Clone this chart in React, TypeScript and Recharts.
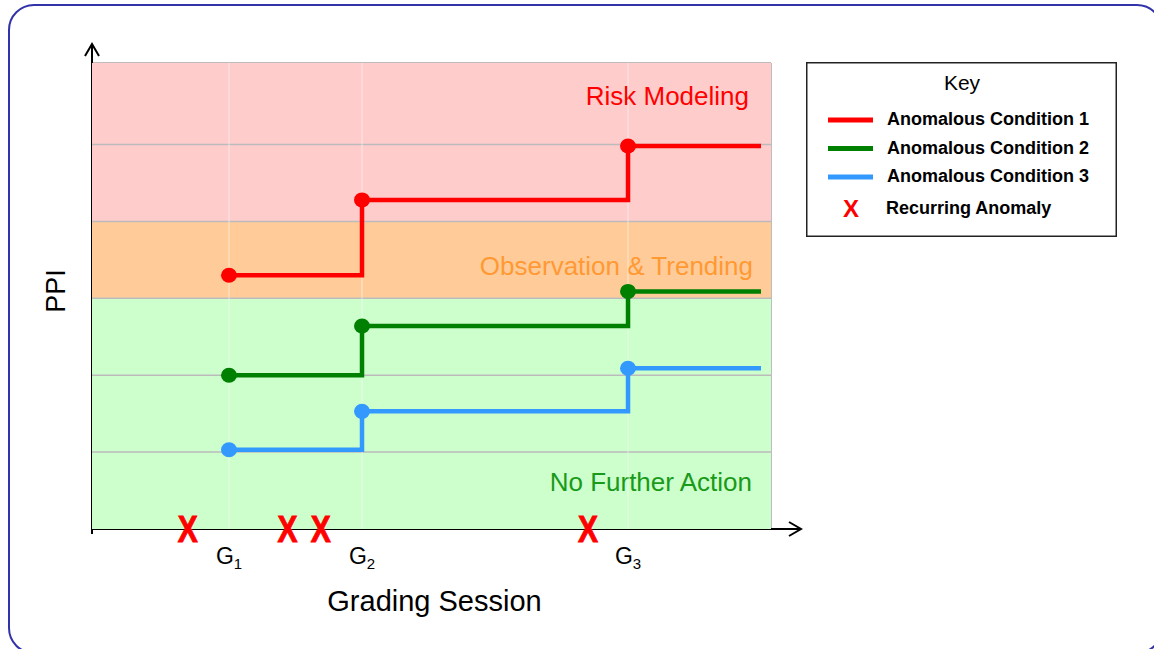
import React from 'react';
import {
  ComposedChart,
  Line,
  Scatter,
  XAxis,
  YAxis,
  ReferenceArea,
  ReferenceLine,
  Legend,
  Customized,
} from 'recharts';

// ---------- data ----------
const sessions = [1, 2, 4, 5];
const sessionTicks = [1, 2, 4];
const sessionSubscripts = ['1', '2', '3'];
const condition1 = [3.3, 4.28, 4.98, 4.98];
const condition2 = [2.0, 2.64, 3.09, 3.09];
const condition3 = [1.03, 1.53, 2.09, 2.09];
const anomalyX = [0.69, 1.44, 1.69, 3.7];
const gridLevels = [1, 2, 3, 4, 5];
const bandNames = ['No Further Action', 'Observation & Trending', 'Risk Modeling'];
const bandFrom = [0, 3, 4];
const bandTo = [3, 4, 6.06];
const seriesNames = ['Anomalous Condition 1', 'Anomalous Condition 2', 'Anomalous Condition 3'];
const anomalyName = 'Recurring Anomaly';
const xDomain = [-0.03, 5.075];
const yDomain = [0, 6.06];

// ---------- styles / layout ----------
const W = 1154;
const H = 649;
const MARGIN = { top: 63, right: 383, bottom: 30, left: 32 };
const Y_AXIS_W = 60;
const X_AXIS_H = 90;
const PLOT = {
  left: MARGIN.left + Y_AXIS_W,
  top: MARGIN.top,
  right: W - MARGIN.right,
  bottom: H - MARGIN.bottom - X_AXIS_H,
};
const FONT = '"Liberation Sans", Arial, Helvetica, sans-serif';
const seriesColors = ['#ff0000', '#008000', '#3399ff'];
const bandFills = ['#ccffcc', '#ffcc99', '#ffcccc'];
const bandTextColors = ['#1a9a1a', '#ff9933', '#ff0000'];
const bandLabelDy = [193, 54, 42];
const bandLabelDx = [19, 18, 22];
const bandFontSize = 26;

const lineData = [condition1, condition2, condition3].map((vals) =>
  sessions.map((x, i) => ({ x, y: vals[i] }))
);
const anomalyData = anomalyX.map((x) => ({ x, y: 0 }));

const makeDot = (color: string) => (props: any) => {
  const { cx, cy, index } = props;
  if (index >= sessionTicks.length || cx == null) return <g key={`d-${index}`} />;
  return <ellipse key={`d-${index}`} cx={cx} cy={cy} rx={8} ry={7.5} fill={color} />;
};

const GTick = (props: any) => {
  const { x, y, payload } = props;
  const i = sessionTicks.indexOf(payload.value);
  return (
    <text x={x} y={y + 27} textAnchor="middle" fontFamily={FONT} fontSize={23} fill="#000">
      <tspan>G</tspan>
      <tspan fontSize={15} dy={5}>{sessionSubscripts[i]}</tspan>
    </text>
  );
};

const XShape = (props: any) => {
  const { cx, cy } = props;
  if (cx == null) return <g />;
  return (
    <text
      transform={`translate(${cx},${cy}) scale(1,1.2)`}
      x={0}
      y={11}
      textAnchor="middle"
      fontFamily={FONT}
      fontWeight="bold"
      fontSize={30}
      fill="#ff0000"
      stroke="#ff0000"
      strokeWidth={0.8}
    >
      X
    </text>
  );
};

const Decor = () => {
  const { left, top, right, bottom } = PLOT;
  return (
    <g>
      <line x1={left} y1={top} x2={right} y2={top} stroke="#bdbdbd" strokeWidth={2} />
      <line x1={right} y1={top} x2={right} y2={bottom} stroke="#bdbdbd" strokeWidth={2} />
      <line x1={left} y1={bottom + 5} x2={left} y2={top - 19} stroke="#000" strokeWidth={2} />
      <polyline
        points={`${left - 7},${top - 7} ${left},${top - 19} ${left + 7},${top - 7}`}
        fill="none"
        stroke="#000"
        strokeWidth={2}
      />
      <line x1={left} y1={bottom} x2={right + 30} y2={bottom} stroke="#000" strokeWidth={2} />
      <polyline
        points={`${right + 18},${bottom - 7} ${right + 30},${bottom} ${right + 18},${bottom + 7}`}
        fill="none"
        stroke="#000"
        strokeWidth={2}
      />
    </g>
  );
};

const LegendBox = () => (
  <svg width={311} height={175} style={{ display: 'block' }}>
    <rect x={0.75} y={0.75} width={309.5} height={173.5} fill="#fff" stroke="#222" strokeWidth={1.5} />
    <text x={156} y={28} textAnchor="middle" fontFamily={FONT} fontSize={21} fill="#000">
      Key
    </text>
    {seriesNames.map((name, i) => (
      <g key={name}>
        <line x1={22} x2={67} y1={58 + i * 28.5} y2={58 + i * 28.5} stroke={seriesColors[i]} strokeWidth={5} />
        <text x={81} y={63 + i * 28.5} fontFamily={FONT} fontWeight="bold" fontSize={18} fill="#000">
          {name}
        </text>
      </g>
    ))}
    <text x={45} y={155} textAnchor="middle" fontFamily={FONT} fontWeight="bold" fontSize={24} fill="#ff0000">
      X
    </text>
    <text x={80} y={152} fontFamily={FONT} fontWeight="bold" fontSize={18} fill="#000">
      {anomalyName}
    </text>
  </svg>
);

export default function App() {
  return (
    <div
      style={{
        position: 'absolute',
        left: 0,
        top: 0,
        width: W,
        height: H,
        overflow: 'hidden',
        background: '#fff',
      }}
    >
      <div
        style={{
          position: 'absolute',
          left: 8,
          top: 4,
          width: 1155,
          height: 650,
          border: '2px solid #3232aa',
          borderRadius: 26,
          boxSizing: 'border-box',
        }}
      />
      <div style={{ position: 'absolute', left: 0, top: 0 }}>
        <ComposedChart width={W} height={H} margin={MARGIN}>
          <XAxis
            type="number"
            dataKey="x"
            domain={xDomain}
            ticks={sessionTicks}
            tick={<GTick />}
            tickLine={false}
            axisLine={false}
            height={X_AXIS_H}
            label={{
              content: (p: any) => {
                const vb = p.viewBox || {};
                return (
                  <text
                    x={vb.x + vb.width / 2 + 3}
                    y={vb.y + 82}
                    textAnchor="middle"
                    fontFamily={FONT}
                    fontSize={29}
                    fill="#000"
                  >
                    Grading Session
                  </text>
                );
              },
            }}
          />
          <YAxis
            type="number"
            dataKey="y"
            domain={yDomain}
            ticks={[]}
            tick={false}
            tickLine={false}
            axisLine={false}
            width={Y_AXIS_W}
            label={{
              content: (p: any) => {
                const vb = p.viewBox || {};
                const cx = vb.x + 33;
                const cy = vb.y + vb.height / 2 - 5;
                return (
                  <text
                    x={cx}
                    y={cy}
                    transform={`rotate(-90 ${cx} ${cy})`}
                    textAnchor="middle"
                    fontFamily={FONT}
                    fontSize={27}
                    fill="#000"
                  >
                    PPI
                  </text>
                );
              },
            }}
          />
          {bandNames.map((name, i) => (
            <ReferenceArea
              key={name}
              y1={bandFrom[i]}
              y2={bandTo[i]}
              fill={bandFills[i]}
              fillOpacity={1}
              stroke="none"
              label={{
                content: (p: any) => {
                  const vb = p.viewBox || {};
                  return (
                    <text
                      x={vb.x + vb.width - bandLabelDx[i]}
                      y={vb.y + bandLabelDy[i]}
                      textAnchor="end"
                      fontFamily={FONT}
                      fontSize={bandFontSize}
                      fill={bandTextColors[i]}
                    >
                      {name}
                    </text>
                  );
                },
              }}
            />
          ))}
          {gridLevels.map((v) => (
            <ReferenceLine key={`h${v}`} y={v} stroke="#bbbbbb" strokeWidth={1.5} />
          ))}
          {sessionTicks.map((v) => (
            <ReferenceLine key={`v${v}`} x={v} stroke="#ffffff" strokeOpacity={0.45} strokeWidth={1.2} />
          ))}
          <Customized component={<Decor />} />
          {lineData.map((d, i) => (
            <Line
              key={seriesNames[i]}
              name={seriesNames[i]}
              data={d}
              dataKey="y"
              type="stepAfter"
              stroke={seriesColors[i]}
              strokeWidth={4.5}
              dot={makeDot(seriesColors[i])}
              activeDot={false}
              isAnimationActive={false}
            />
          ))}
          <Scatter
            name={anomalyName}
            data={anomalyData}
            dataKey="y"
            shape={<XShape />}
            isAnimationActive={false}
          />
          <Legend
            layout="horizontal"
            verticalAlign="middle"
            align="center"
            content={() => <LegendBox />}
            wrapperStyle={{ position: 'absolute', left: 806, top: 62, width: 311, height: 175 }}
          />
        </ComposedChart>
      </div>
    </div>
  );
}
